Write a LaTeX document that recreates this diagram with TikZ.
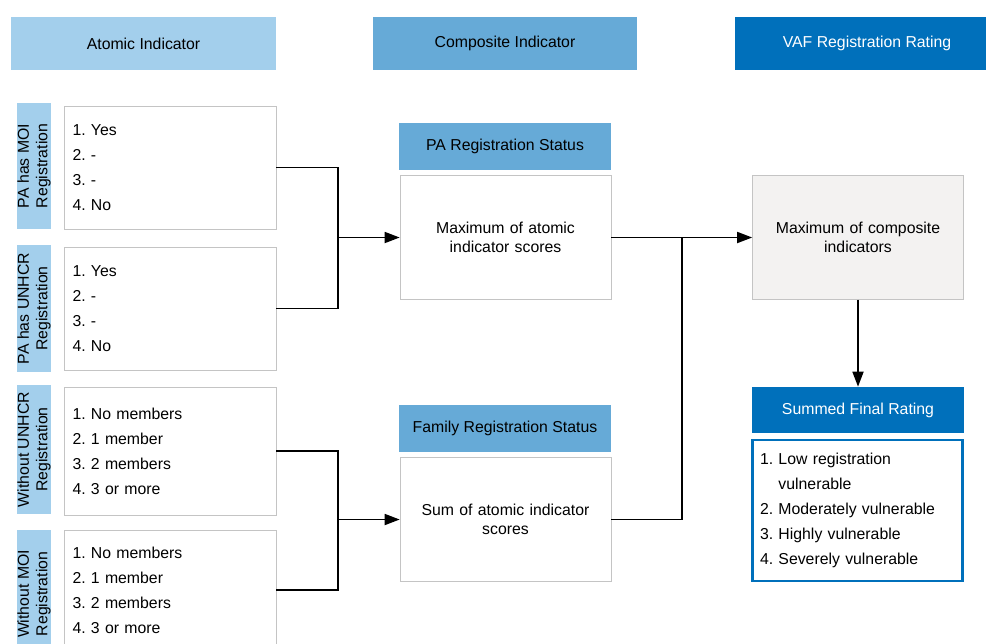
\documentclass[tikz,border=0pt]{standalone}
\usepackage{fontspec}
\setmainfont{Liberation Sans}
\usetikzlibrary{arrows.meta}
\definecolor{lightblue}{HTML}{A3CFEC}
\definecolor{midblue}{HTML}{66AAD7}
\definecolor{darkblue}{HTML}{0070BB}
\definecolor{boxgray}{HTML}{C4C4C4}
\definecolor{paper}{HTML}{F3F2F1}
\frenchspacing
\begin{document}
\begin{tikzpicture}[x=0.02cm,y=-0.02cm,font=\fontsize{9}{14.2}\selectfont,
  hdr/.style={minimum width=5.3cm,minimum height=1.06cm,inner sep=0pt},
  tab/.style={fill=lightblue,minimum width=0.92cm,inner sep=0pt,rotate=90,align=center,font=\fontsize{9}{10.5}\selectfont},
  ind/.style={draw=boxgray,fill=white,minimum width=4.24cm,text width=3.9cm,align=left,inner sep=0pt},
  sub/.style={fill=midblue,minimum width=4.24cm,minimum height=0.94cm,inner sep=0pt},
  calc/.style={draw=boxgray,fill=white,minimum width=4.22cm,minimum height=2.48cm,text width=3.8cm,align=center,inner sep=0pt,font=\fontsize{9}{11}\selectfont},
  arr/.style={-{Triangle[length=3mm,width=2.2mm]}},
  wire/.style={line width=1pt}]
  \useasboundingbox (0,0) rectangle (986,643);
  % column heads
  \node[hdr,fill=lightblue] (hatom) at (143.5,43.5){Atomic Indicator};
  \node[hdr,fill=midblue] (hcomp) at (505,43.5){Composite Indicator};
  \node[hdr,fill=darkblue,text=white] (hvaf) at (867,43.5){VAF Registration Rating};
  % atomic indicators
  \node[tab,minimum width=2.52cm] (t1) at (34,166){PA has MOI\\Registration};
  \node[ind,minimum height=2.46cm] (a1) at (170,167.5){1. Yes\\2. -\\3. -\\4. No};
  \node[tab,minimum width=2.54cm] (t2) at (34,308.5){PA has UNHCR\\Registration};
  \node[ind,minimum height=2.46cm] (a2) at (170,308.5){1. Yes\\2. -\\3. -\\4. No};
  \node[tab,minimum width=2.58cm] (t3) at (34,449.5){Without UNHCR\\Registration};
  \node[ind,minimum height=2.56cm] (a3) at (170,451){1. No members\\2. 1 member\\3. 2 members\\4. 3 or more};
  \node[tab,minimum width=2.56cm] (t4) at (34,594){Without MOI\\Registration};
  \node[ind,minimum height=2.4cm] (a4) at (170,590){1. No members\\2. 1 member\\3. 2 members\\4. 3 or more};
  % composite indicators
  \node[sub] (spa) at (505,146.5){PA Registration Status};
  \node[calc] (cpa) at (505.5,237.5){Maximum of atomic\\indicator scores};
  \node[sub] (sfam) at (505,428.5){Family Registration Status};
  \node[calc] (cfam) at (505.5,519.5){Sum of atomic indicator\\scores};
  % rating
  \node[calc,draw=boxgray,fill=paper] (cmax) at (858,237.5){Maximum of composite\\indicators};
  \node[sub,fill=darkblue,text=white,minimum height=0.92cm] (ssum) at (858,410){Summed Final Rating};
  \node[draw=darkblue,line width=1.4pt,fill=white,minimum width=4.2cm,minimum height=2.82cm,text width=3.9cm,align=left,inner sep=0pt] (rlist) at (857.5,510.5){1. Low registration\\\phantom{1. }vulnerable\\2. Moderately vulnerable\\3. Highly vulnerable\\4. Severely vulnerable};
  % connectors
  \coordinate (j1) at (338,237.5);
  \coordinate (j2) at (338,519.5);
  \coordinate (j3) at (682,237.5);
  \draw[wire] (a1.east) -| (j1) |- (a2.east);
  \draw[wire,arr] (j1) -- (cpa.west);
  \draw[wire] (a3.east) -| (j2) |- (a4.east);
  \draw[wire,arr] (j2) -- (cfam.west);
  \draw[wire,arr] (cpa.east) -- (cmax.west);
  \draw[wire] (cfam.east) -| (j3);
  \draw[wire,arr] (cmax.south) -- (ssum.north);
\end{tikzpicture}
\end{document}
